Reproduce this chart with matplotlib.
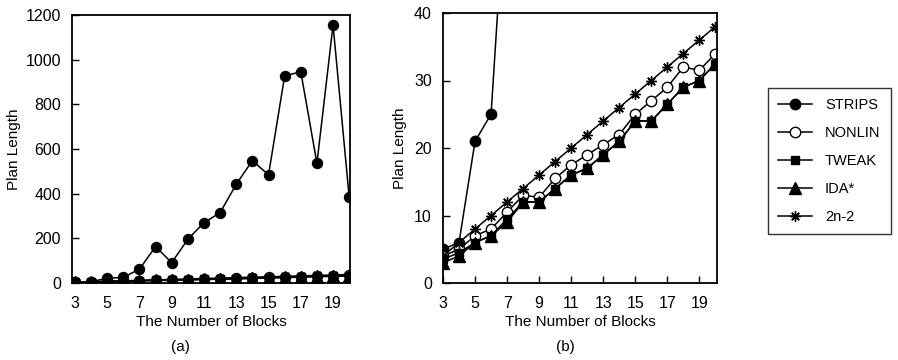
import numpy as np
import matplotlib.pyplot as plt

# Blocks world plan lengths
blocks = list(range(3, 21))
strips = [5, 6, 21, 25, 62, 163, 91, 196, 270, 315, 442, 548, 484, 927, 946, 536, 1155, 384]
nonlin = [4, 5, 7, 8, 10.5, 13, 12.7, 15.5, 17.5, 19, 20.5, 22, 25, 27, 29, 32, 31.5, 34]
tweak = [3.5, 4.5, 6, 7, 9.5, 12, 12, 14, 16, 17, 19, 21, 24, 24, 26.5, 29, 30, 32.5]
ida = [3, 4, 6, 7, 9, 12, 12, 14, 16, 17, 19, 21, 24, 24, 26.5, 29, 30, 32.5]
two_n = [4, 6, 8, 10, 12, 14, 16, 18, 20, 22, 24, 26, 28, 30, 32, 34, 36, 38]

# name, data, marker, face colour, size scale
series = [
    ('STRIPS', strips, 'o', 'black', 1.0),
    ('NONLIN', nonlin, 'o', 'white', 1.0),
    ('TWEAK', tweak, 's', 'black', 0.85),
    ('IDA*', ida, '^', 'black', 1.2),
    ('2n-2', two_n, (8, 2, 0), 'black', 1.0),
]

plt.rcParams['font.family'] = ['Liberation Sans', 'DejaVu Sans']

fig = plt.figure(figsize=(8.98, 3.6), dpi=100)
ax_a = fig.add_axes([72/898, 77/360, 278/898, 268/360])
ax_b = fig.add_axes([443/898, 77/360, 274/898, 270/360])


def draw(ax, ms):
    handles = []
    for name, vals, mk, fc, scale in series:
        h, = ax.plot(blocks, vals, color='black', lw=1.1, marker=mk, mfc=fc,
                     mec='black', mew=1.0, ms=ms * scale, label=name)
        handles.append(h)
    for s in ax.spines.values():
        s.set_linewidth(1.3)
    ax.set_xticks(range(3, 20, 2))
    ax.tick_params(direction='in', length=5, width=1.0, labelsize=11.5)
    ax.tick_params(axis='x', pad=9)
    ax.tick_params(axis='y', pad=8)
    ax.set_ylabel('Plan Length', fontsize=11)
    ax.set_xlabel('The Number of Blocks', fontsize=11, labelpad=3)
    return handles


draw(ax_a, 7.2)
ax_a.set_xlim(2.82, 20.05)
ax_a.set_ylim(0, 1200)
ax_a.set_yticks(range(0, 1201, 200))
ax_a.yaxis.set_label_coords(-0.185, 0.5)

handles = draw(ax_b, 7.5)
ax_b.set_xlim(3, 20.1)
ax_b.set_ylim(0, 40)
ax_b.set_yticks([0, 10, 20, 30, 40])
ax_b.yaxis.set_label_coords(-0.13, 0.5)

fig.text(180/898, 1 - 347/360, '(a)', ha='center', va='center', fontsize=11)
fig.text(565/898, 1 - 347/360, '(b)', ha='center', va='center', fontsize=11)

leg = fig.legend(handles=handles, loc='upper left',
                 bbox_to_anchor=(768/898, 1 - 88/360), fontsize=10.5,
                 frameon=True, fancybox=False, edgecolor='black',
                 handlelength=2.3, handletextpad=0.9, labelspacing=0.95,
                 borderpad=0.7, borderaxespad=0)
leg.get_frame().set_linewidth(1.0)

fig.savefig('out.png', dpi=100)
